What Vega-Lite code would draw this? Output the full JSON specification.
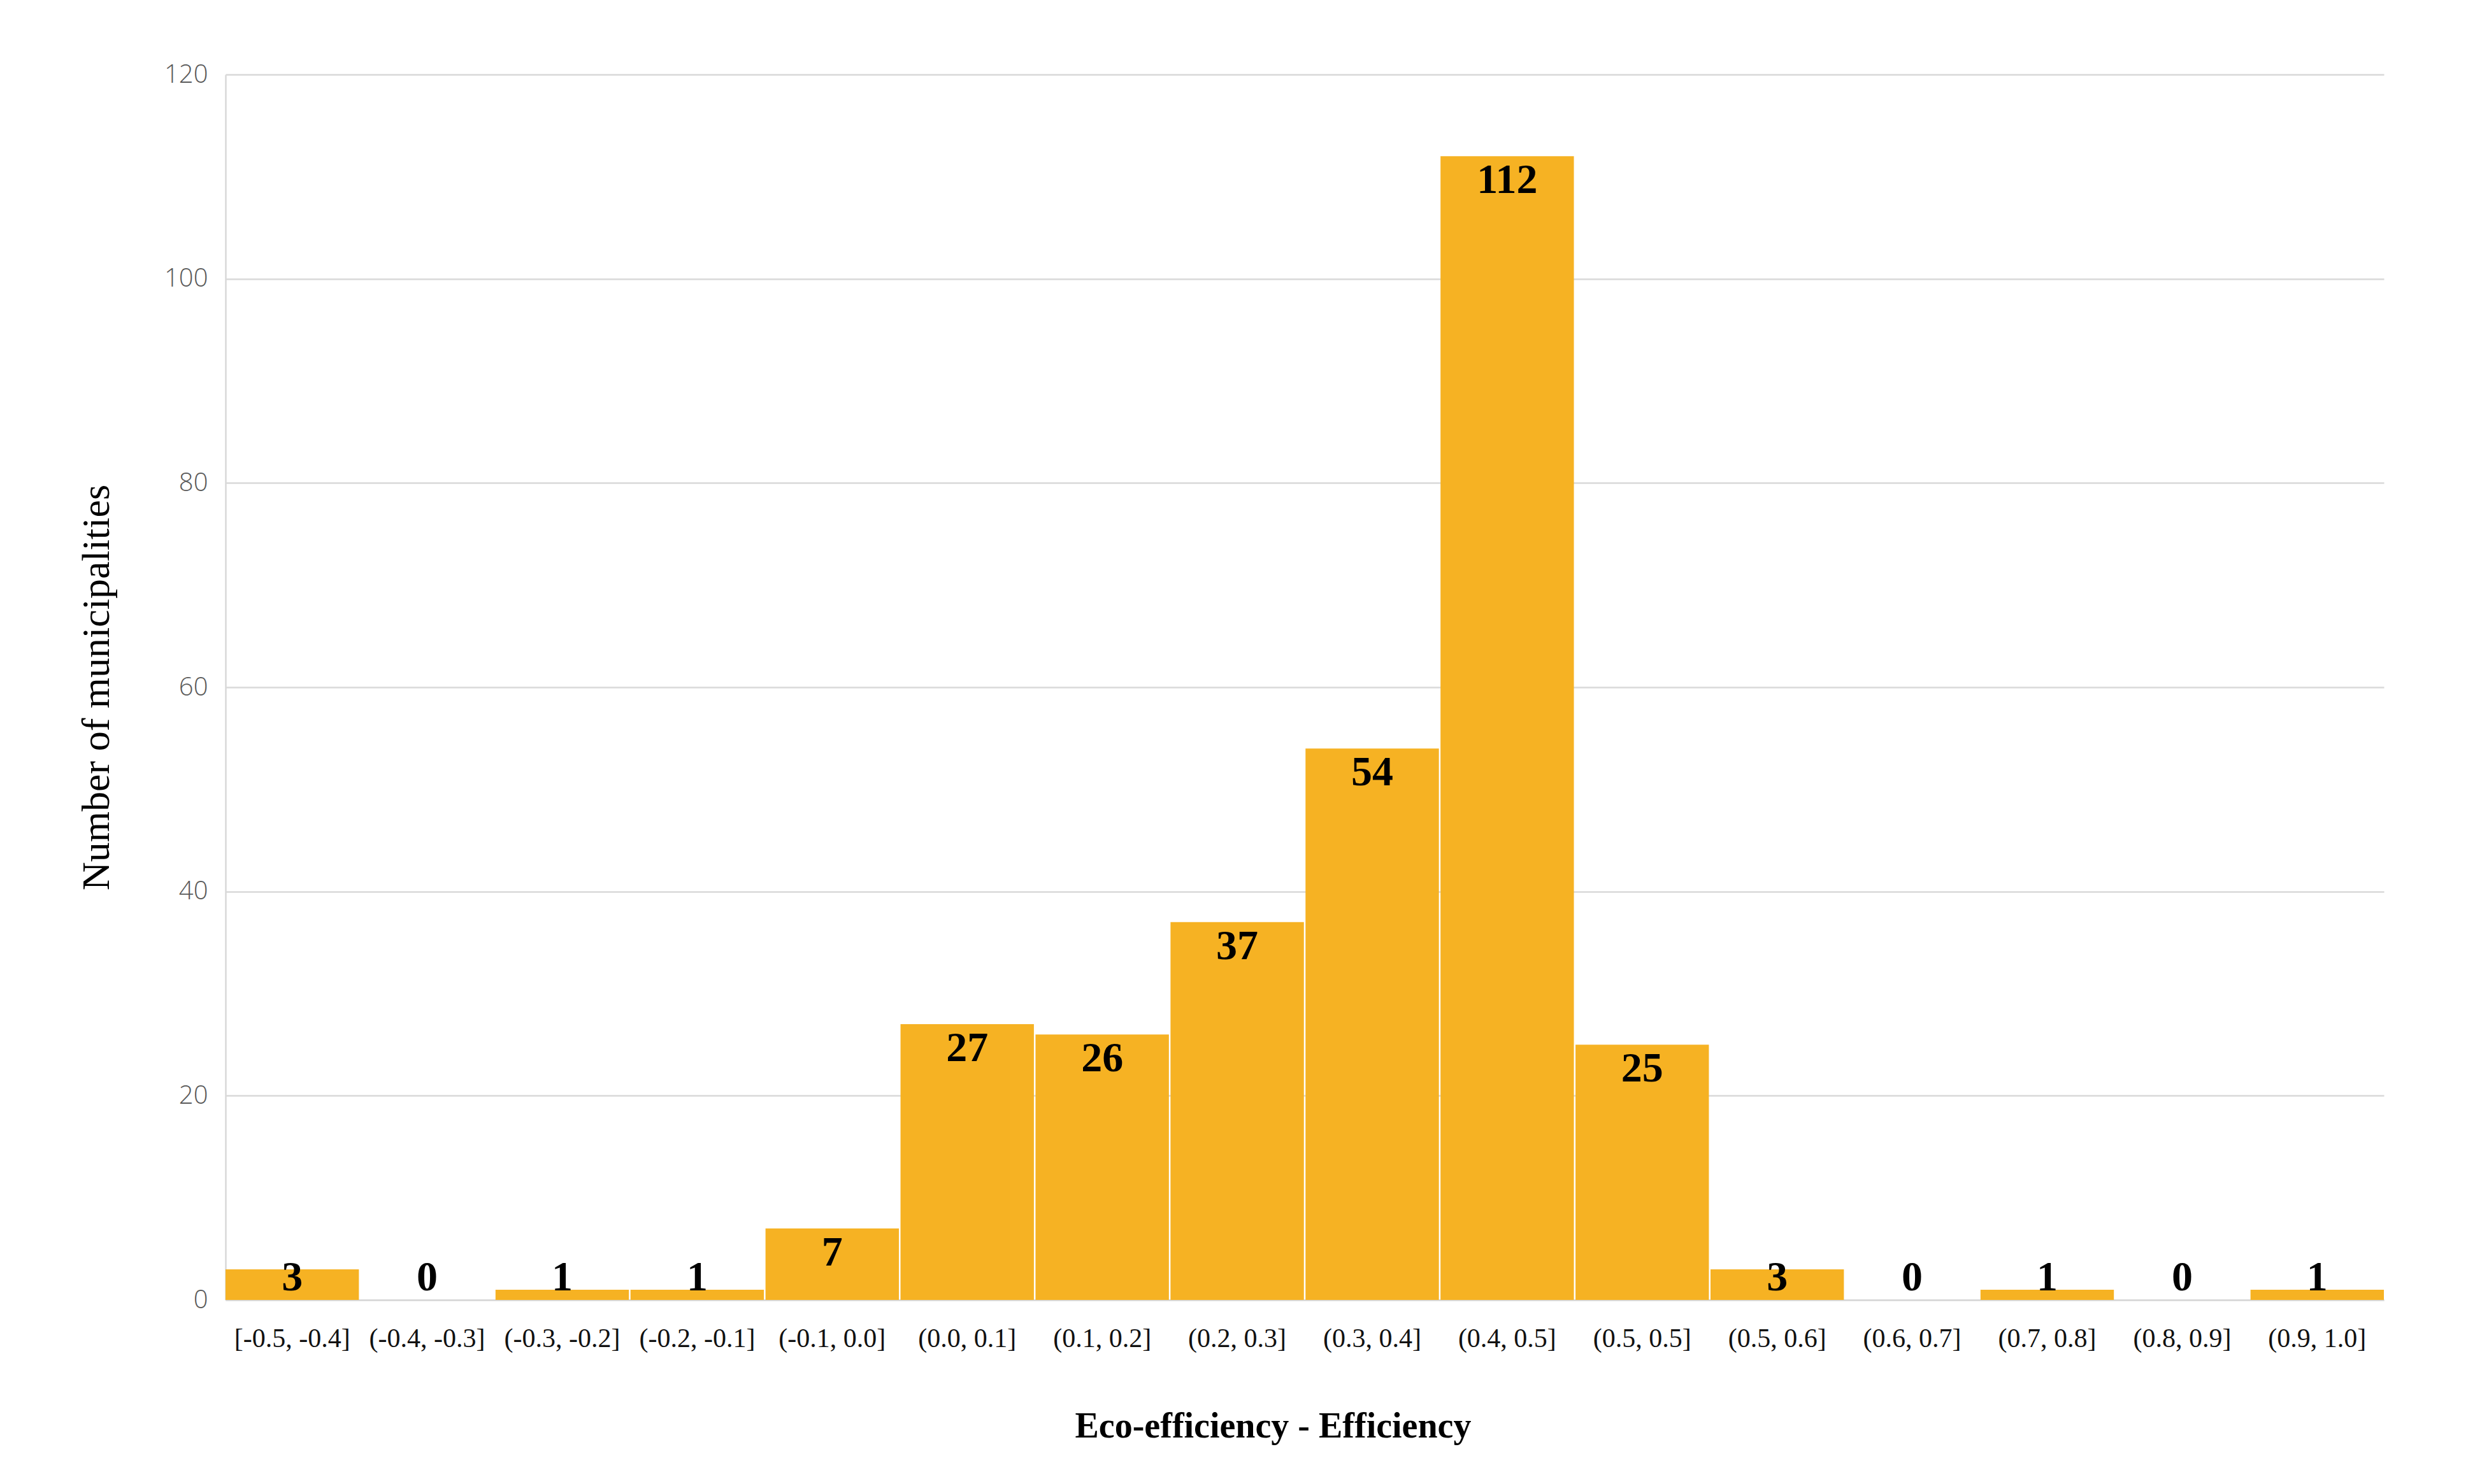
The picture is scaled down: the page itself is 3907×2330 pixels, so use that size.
{
  "$schema": "https://vega.github.io/schema/vega-lite/v6.json",
  "autosize": "none",
  "width": 3388,
  "height": 1924,
  "padding": {"left": 354, "top": 117, "right": 165, "bottom": 289},
  "background": "white",
  "config": {
    "view": {"stroke": null},
    "axis": {"gridColor": "#d9d9d9", "gridWidth": 2.5, "domainColor": "#d9d9d9", "domainWidth": 2.5, "ticks": false}
  },
  "data": {
    "values": [
      {"bin": "[-0.5, -0.4]", "count": 3},
      {"bin": "(-0.4, -0.3]", "count": 0},
      {"bin": "(-0.3, -0.2]", "count": 1},
      {"bin": "(-0.2, -0.1]", "count": 1},
      {"bin": "(-0.1, 0.0]", "count": 7},
      {"bin": "(0.0, 0.1]", "count": 27},
      {"bin": "(0.1, 0.2]", "count": 26},
      {"bin": "(0.2, 0.3]", "count": 37},
      {"bin": "(0.3, 0.4]", "count": 54},
      {"bin": "(0.4, 0.5]", "count": 112},
      {"bin": "(0.5, 0.5]", "count": 25},
      {"bin": "(0.5, 0.6]", "count": 3},
      {"bin": "(0.6, 0.7]", "count": 0},
      {"bin": "(0.7, 0.8]", "count": 1},
      {"bin": "(0.8, 0.9]", "count": 0},
      {"bin": "(0.9, 1.0]", "count": 1}
    ]
  },
  "encoding": {
    "x": {
      "field": "bin", "type": "nominal", "sort": null,
      "scale": {"paddingInner": 0.012, "paddingOuter": 0},
      "axis": {
        "title": "Eco-efficiency - Efficiency",
        "titleFont": "Liberation Serif", "titleFontSize": 56, "titleFontWeight": "bold", "titleColor": "#000000",
        "titlePadding": 90, "titleX": 1644,
        "labelAngle": 0, "labelFont": "Liberation Serif", "labelFontSize": 42, "labelColor": "#111111",
        "labelPadding": 40, "labelLimit": 0, "labelOverlap": false, "grid": false
      }
    }
  },
  "layer": [
    {
      "mark": {"type": "bar", "color": "#F6B223"},
      "encoding": {
        "y": {
          "field": "count", "type": "quantitative",
          "scale": {"domain": [0, 120]},
          "axis": {
            "title": "Number of municipalities",
            "titleFont": "Liberation Serif", "titleFontSize": 62, "titleFontWeight": "normal", "titleColor": "#000000",
            "titlePadding": 74,
            "values": [0, 20, 40, 60, 80, 100, 120],
            "labelFont": "Open Sans", "labelFontWeight": 300, "labelFontSize": 40, "labelColor": "#595959",
            "labelPadding": 28
          }
        }
      }
    },
    {
      "transform": [{"filter": "datum.count >= 5"}],
      "mark": {"type": "text", "font": "Liberation Serif", "fontWeight": "bold", "fontSize": 66, "color": "#000000", "baseline": "middle", "dy": 38},
      "encoding": {
        "y": {"field": "count", "type": "quantitative"},
        "text": {"field": "count", "type": "quantitative"}
      }
    },
    {
      "transform": [{"filter": "datum.count < 5"}],
      "mark": {"type": "text", "font": "Liberation Serif", "fontWeight": "bold", "fontSize": 66, "color": "#000000", "baseline": "middle", "dy": -35},
      "encoding": {
        "y": {"datum": 0, "type": "quantitative"},
        "text": {"field": "count", "type": "quantitative"}
      }
    }
  ]
}
